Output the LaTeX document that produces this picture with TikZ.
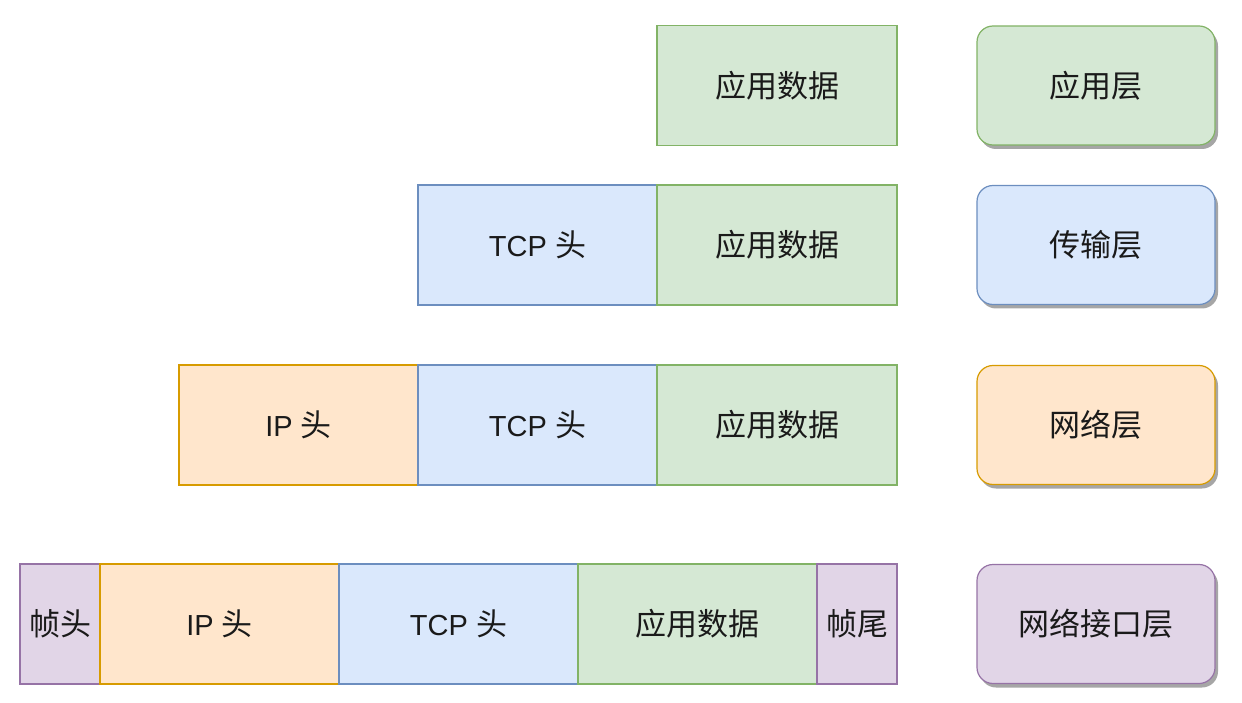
\documentclass[tikz,border=0pt]{standalone}
\usepackage{fontspec}
\setmainfont{Noto Sans CJK SC}
\newfontfamily\lat{Liberation Sans}
\usetikzlibrary{shadows}
\definecolor{gfill}{HTML}{D5E8D4}\definecolor{gline}{HTML}{82B366}
\definecolor{bfill}{HTML}{DAE8FC}\definecolor{bline}{HTML}{6C8EBF}
\definecolor{ofill}{HTML}{FFE6CC}\definecolor{oline}{HTML}{D79B00}
\definecolor{pfill}{HTML}{E1D5E7}\definecolor{pline}{HTML}{9673A6}
\definecolor{txt}{HTML}{1A1A1A}
\tikzset{
  cell/.style={draw, line width=1.2pt, inner sep=0pt, minimum height=120pt, text=txt, font=\fontsize{31}{34}\selectfont},
  gcell/.style={cell, fill=gfill, draw=gline},
  bcell/.style={cell, fill=bfill, draw=bline},
  ocell/.style={cell, fill=ofill, draw=oline},
  pcell/.style={cell, fill=pfill, draw=pline},
  layer/.style={cell, rounded corners=16pt, minimum width=238pt, minimum height=119pt,
    drop shadow={shadow xshift=3pt, shadow yshift=-4pt, fill=black, opacity=0.35}},
}
\newcommand\tcph{{\lat\fontsize{29}{32}\selectfont TCP }头}
\newcommand\iph{{\lat\fontsize{29}{32}\selectfont IP }头}
\begin{document}
\begin{tikzpicture}[x=1pt,y=-1pt]
\useasboundingbox (0,0) rectangle (1242,703);
% row 1
\node[gcell, minimum width=240pt] (a1) at (777,85.5) {应用数据};
\node[layer, fill=gfill, draw=gline] (l1) at (1096,85.5) {应用层};
% row 2
\node[bcell, minimum width=239pt] (t2) at (537.5,245) {\tcph};
\node[gcell, minimum width=240pt] (a2) at (777,245) {应用数据};
\node[layer, fill=bfill, draw=bline] (l2) at (1096,245) {传输层};
% row 3
\node[ocell, minimum width=239pt] (i3) at (298.5,425) {\iph};
\node[bcell, minimum width=239pt] (t3) at (537.5,425) {\tcph};
\node[gcell, minimum width=240pt] (a3) at (777,425) {应用数据};
\node[layer, fill=ofill, draw=oline] (l3) at (1096,425) {网络层};
% row 4
\node[pcell, minimum width=80pt] (h4) at (60,624) {帧头};
\node[ocell, minimum width=239pt] (i4) at (219.5,624) {\iph};
\node[bcell, minimum width=239pt] (t4) at (458.5,624) {\tcph};
\node[gcell, minimum width=239pt] (a4) at (697.5,624) {应用数据};
\node[pcell, minimum width=80pt] (e4) at (857,624) {帧尾};
\node[layer, fill=pfill, draw=pline] (l4) at (1096,624) {网络接口层};
\end{tikzpicture}
\end{document}
